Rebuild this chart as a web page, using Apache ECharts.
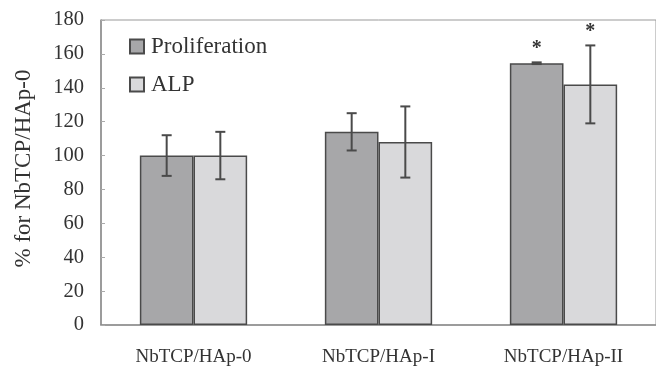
<!DOCTYPE html>
<html>
<head>
<meta charset="utf-8">
<script src="https://cdn.jsdelivr.net/npm/echarts@6/dist/echarts.min.js"></script>
<style>
  html, body { margin: 0; padding: 0; background: #fff; }
  #chart { width: 656px; height: 368px; }
</style>
</head>
<body>
<div id="chart"></div>
<script>
// 数据
const categories = ['NbTCP/HAp-0', 'NbTCP/HAp-I', 'NbTCP/HAp-II'];
const proliferation = [100, 114, 154.5];
const proliferationErr = [12, 11, 0.5];
const alp = [100, 108, 142];
const alpErr = [14, 21, 23];
// 显著性标记
const proliferationSig = ['', '', '*'];
const alpSig = ['', '', '*'];
const yTicks = { min: 0, max: 180, interval: 20 };

const serif = 'Liberation Serif, Times New Roman, serif';
const textColor = '#333';
const catGap = 0.42; // barCategoryGap

const chart = echarts.init(document.getElementById('chart'));

// 误差线 + 星号
function errorSeries(name, values, errs, sigs, side) {
  return {
    name: name + '-err',
    type: 'custom',
    z: 10,
    data: values.map((v, i) => [i, v, errs[i]]),
    renderItem: (params, api) => {
      const idx = api.value(0);
      const v = api.value(1);
      const e = api.value(2);
      const sig = sigs[idx];
      const catW = api.size([1, 0])[0];
      const barW = (catW * (1 - catGap)) / 2;
      const c = api.coord([idx, v]);
      const x = c[0] + side * barW / 2;
      const top = api.coord([idx, v + e])[1];
      const bot = api.coord([idx, v - e])[1];
      const cap = 5;
      const style = { stroke: '#4a4a4a', lineWidth: 2 };
      const children = [
        { type: 'line', shape: { x1: x, y1: top, x2: x, y2: bot }, style },
        { type: 'line', shape: { x1: x - cap, y1: top, x2: x + cap, y2: top }, style },
        { type: 'line', shape: { x1: x - cap, y1: bot, x2: x + cap, y2: bot }, style },
      ];
      if (sig) {
        children.push({
          type: 'text',
          style: {
            text: sig, x: x, y: top - 4,
            align: 'center', verticalAlign: 'bottom',
            font: 'bold 20px ' + serif, fill: '#333',
          },
        });
      }
      return { type: 'group', children };
    },
  };
}

const option = {
  animation: false,
  backgroundColor: '#fff',
  grid: {
    left: 101, right: 0, top: 20, bottom: 43,
    show: true, borderColor: '#999', borderWidth: 1, backgroundColor: 'transparent',
  },
  legend: {
    orient: 'vertical',
    left: 124, top: 30,
    itemWidth: 14, itemHeight: 14, itemGap: 15,
    icon: 'rect',
    data: ['Proliferation', 'ALP'],
    textStyle: { fontFamily: serif, fontSize: 23, color: textColor, padding: [0, 0, 0, 2] },
  },
  xAxis: {
    type: 'category',
    data: categories,
    axisLine: { lineStyle: { color: '#8c8c8c', width: 1.5 } },
    axisTick: { inside: true, length: 5, lineStyle: { color: '#aaa' } },
    axisLabel: { fontFamily: serif, fontSize: 19, color: textColor, margin: 23 },
  },
  yAxis: {
    type: 'value',
    min: yTicks.min, max: yTicks.max, interval: yTicks.interval,
    name: '% for NbTCP/HAp-0',
    nameLocation: 'middle',
    nameGap: 66,
    nameTextStyle: { fontFamily: serif, fontSize: 23, color: textColor, padding: [0, 0, 0, 8] },
    axisLine: { show: true, lineStyle: { color: '#8c8c8c', width: 1.5 } },
    axisTick: { show: true, inside: true, length: 4, lineStyle: { color: '#aaa' } },
    splitLine: { show: false },
    axisLabel: { fontFamily: serif, fontSize: 20.5, color: textColor, margin: 17 },
  },
  series: [
    {
      name: 'Proliferation',
      type: 'bar',
      data: proliferation,
      barGap: '0%',
      barCategoryGap: (catGap * 100) + '%',
      itemStyle: { color: '#a7a7a9', borderColor: '#4a4a4a', borderWidth: 1.5 },
    },
    {
      name: 'ALP',
      type: 'bar',
      data: alp,
      itemStyle: { color: '#d9d9db', borderColor: '#4a4a4a', borderWidth: 1.5 },
    },
    errorSeries('Proliferation', proliferation, proliferationErr, proliferationSig, -1),
    errorSeries('ALP', alp, alpErr, alpSig, 1),
  ],
};

chart.setOption(option);

window.addEventListener('resize', () => {
  chart.resize();
});
</script>
</body>
</html>
